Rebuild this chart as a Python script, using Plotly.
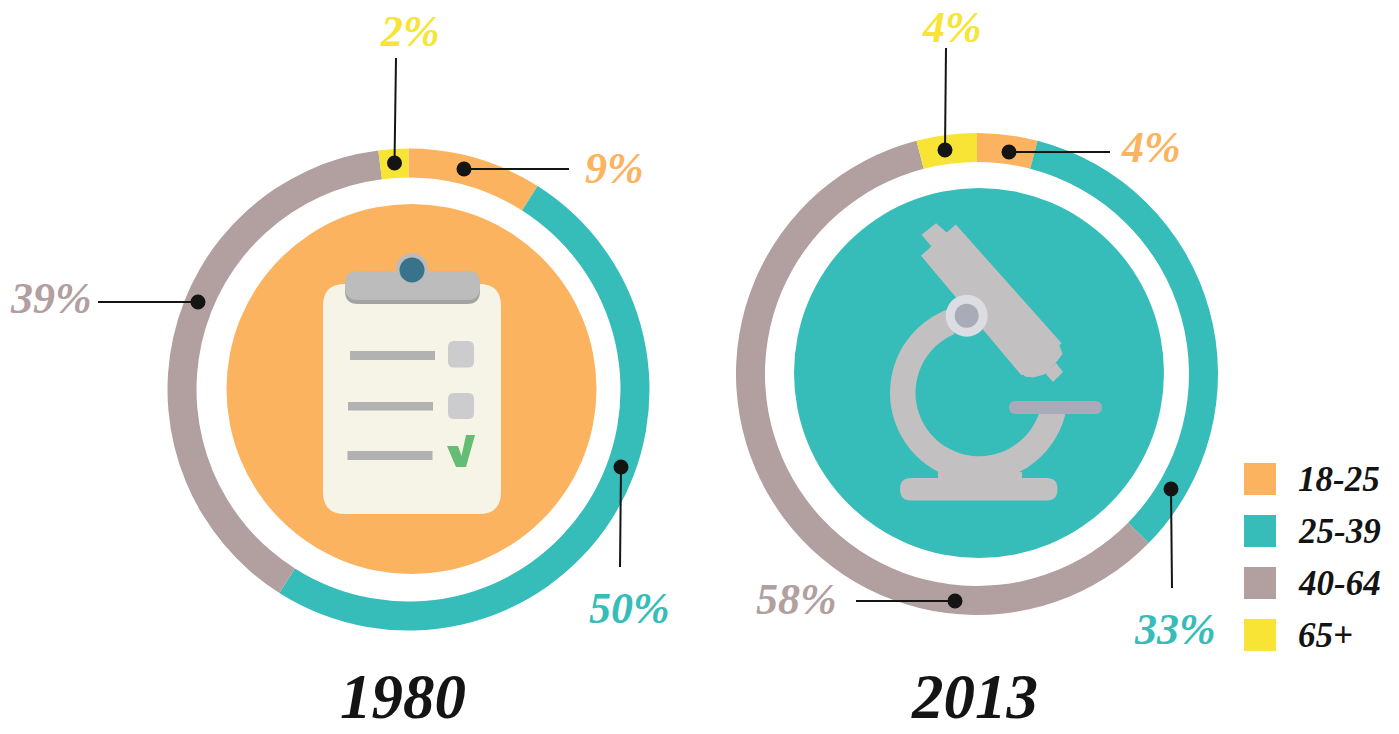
import numpy as np
import plotly.graph_objects as go

# ---------- data ----------
AGE_GROUPS = ["18-25", "25-39", "40-64", "65+"]
VALUES_1980 = [9, 50, 39, 2]
VALUES_2013 = [4, 33, 58, 4]
YEARS = ["1980", "2013"]
COLORS = ["#fbb35f", "#37bdb9", "#b29f9f", "#f7e434"]

# ---------- layout constants (pixels of the 1399x734 page) ----------
W, H = 1399, 734
RING_R = 241
HOLE = 212 / 241
RINGS = [(408.5, 389.5), (977, 374)]
DISCS = [(411.5, 389, 185, COLORS[0]), (979, 373, 185, COLORS[1])]
FONT = "Liberation Serif, serif"
INK = "#141414"

# label centre, dot, line end, per slice
CALLOUTS_1980 = [
    ((614, 168), (464, 169), (569, 169)),
    ((629, 608), (621, 467), (620, 567)),
    ((51, 298), (198, 302), (98, 302)),
    ((410, 31), (394.5, 163), (396, 58)),
]
CALLOUTS_2013 = [
    ((1151, 147), (1009, 152), (1110, 152)),
    ((1175, 629), (1171, 489), (1172, 588)),
    ((796, 599), (955, 601), (856, 601)),
    ((952, 27), (945, 150), (946, 48)),
]
TITLE_POS = [(403, 697), (974, 697)]
LEGEND_Y = [479, 531, 583, 635]


def rrect(x0, y0, x1, y1, r, color):
    p = (f"M{x0+r},{y0} L{x1-r},{y0} Q{x1},{y0} {x1},{y0+r} L{x1},{y1-r} Q{x1},{y1} {x1-r},{y1} "
         f"L{x0+r},{y1} Q{x0},{y1} {x0},{y1-r} L{x0},{y0+r} Q{x0},{y0} {x0+r},{y0} Z")
    return dict(type="path", path=p, fillcolor=color, line_width=0, layer="above")


def poly(points, color, stroke=0):
    p = "M" + " L".join(f"{x:.1f},{y:.1f}" for x, y in points) + " Z"
    return dict(type="path", path=p, fillcolor=color, layer="above",
                line=dict(width=stroke, color=color))


def circle(cx, cy, r, color):
    return dict(type="circle", x0=cx - r, x1=cx + r, y0=cy - r, y1=cy + r,
                fillcolor=color, line_width=0, layer="above")


def arc(cx, cy, r, a0, a1, n=60):
    t = np.radians(np.linspace(a0, a1, n))
    return list(zip(cx + r * np.cos(t), cy + r * np.sin(t)))


shapes = []

# central discs
for cx, cy, r, c in DISCS:
    shapes.append(circle(cx, cy, r, c))

# clipboard icon
PAPER, CLIP, CLIP_DK, BAR, BOX = "#f5f4e7", "#bcbcbc", "#a3a3a3", "#b2b2b2", "#cccbcd"
shapes += [
    rrect(323, 284, 501, 514, 22, PAPER),
    rrect(345, 273, 480, 304, 13, CLIP_DK),
    rrect(345, 271, 480, 300, 13, CLIP),
    circle(412, 269, 16, CLIP),
    circle(412, 270, 12.5, "#37738a"),
    rrect(350, 351, 435, 360, 0.1, BAR),
    rrect(348, 402, 433, 410.5, 0.1, BAR),
    rrect(347.5, 451, 432.5, 460, 0.1, BAR),
    rrect(448, 341, 474, 367.5, 6, BOX),
    rrect(448, 393, 474, 419, 6, BOX),
    poly([(447, 446), (458, 446), (461.5, 456), (466, 435), (475, 435), (466, 467), (456, 467)], "#63bd75"),
]

# microscope icon
GREY, STEEL = "#c2c0c0", "#a9abb8"
ax, ay = 979, 392.7
shapes += [
    poly(arc(ax, ay, 89, 251, 13) + arc(ax, ay, 63.5, 18.5, 247), GREY),
    rrect(938, 472, 1022, 480, 0.1, GREY),
    rrect(900, 478, 1057.5, 500.5, 11, GREY),
    poly([(936, 224.5), (947, 234), (934, 248), (923, 235)], GREY, 2),
    poly([(955.5, 228), (1058, 343), (1022, 372), (924.5, 256)], GREY, 5),
    poly([(1058, 343), (1062, 354), (1056, 362), (1044, 374), (1033, 377), (1025, 376), (1020, 371)], GREY, 1),
    poly([(1056, 363), (1063, 372), (1053, 382), (1045, 373)], GREY, 0),
    rrect(1009, 401, 1102, 414, 6.5, STEEL),
    circle(966.7, 315.7, 21, "#dcdde2"),
    circle(966.7, 315.7, 12, STEEL),
]

fig = go.Figure()
fig.add_trace(go.Scatter(x=[0], y=[0], mode="markers", marker_opacity=0,
                         hoverinfo="skip", showlegend=False))

for (cx, cy), vals, year in zip(RINGS, [VALUES_1980, VALUES_2013], YEARS):
    fig.add_trace(go.Pie(
        labels=AGE_GROUPS, values=vals, name=year, sort=False, direction="clockwise", rotation=0,
        hole=HOLE, textinfo="none", hoverinfo="label+percent", showlegend=False,
        marker=dict(colors=COLORS, line=dict(width=0)),
        domain=dict(x=[(cx - RING_R) / W, (cx + RING_R) / W],
                    y=[1 - (cy + RING_R) / H, 1 - (cy - RING_R) / H]),
    ))

annotations = []


def text(x, y, s, size, color, anchor="center"):
    annotations.append(dict(x=x, y=y, xref="x", yref="y", text=s, showarrow=False, xanchor=anchor,
                            yanchor="middle", font=dict(family=FONT, size=size, color=color)))


for vals, calls in [(VALUES_1980, CALLOUTS_1980), (VALUES_2013, CALLOUTS_2013)]:
    for v, c, (lab, dot, end) in zip(vals, COLORS, calls):
        text(lab[0], lab[1], f"<b><i>{v}%</i></b>", 44, c)
        shapes.append(dict(type="line", x0=dot[0], y0=dot[1], x1=end[0], y1=end[1],
                           line=dict(color=INK, width=2), layer="above"))
        shapes.append(circle(dot[0], dot[1], 7.5, INK))

for (x, y), yr in zip(TITLE_POS, YEARS):
    text(x, y, f"<b><i>{yr}</i></b>", 63, INK)

for y, lab, c in zip(LEGEND_Y, AGE_GROUPS, COLORS):
    shapes.append(dict(type="rect", x0=1244, x1=1276, y0=y - 16, y1=y + 16,
                       fillcolor=c, line_width=0, layer="above"))
    text(1296, y, f"<b><i>{lab}</i></b>", 35, INK, "left")

fig.update_layout(
    width=W, height=H, margin=dict(l=0, r=0, t=0, b=0), autosize=False,
    paper_bgcolor="white", plot_bgcolor="white", showlegend=False,
    xaxis=dict(range=[0, W], visible=False, fixedrange=True),
    yaxis=dict(range=[H, 0], visible=False, fixedrange=True),
    shapes=shapes, annotations=annotations,
)

fig.write_html("out.html", config=dict(displayModeBar=False),
               post_script="document.body.style.margin='0';document.body.style.overflow='hidden';")
